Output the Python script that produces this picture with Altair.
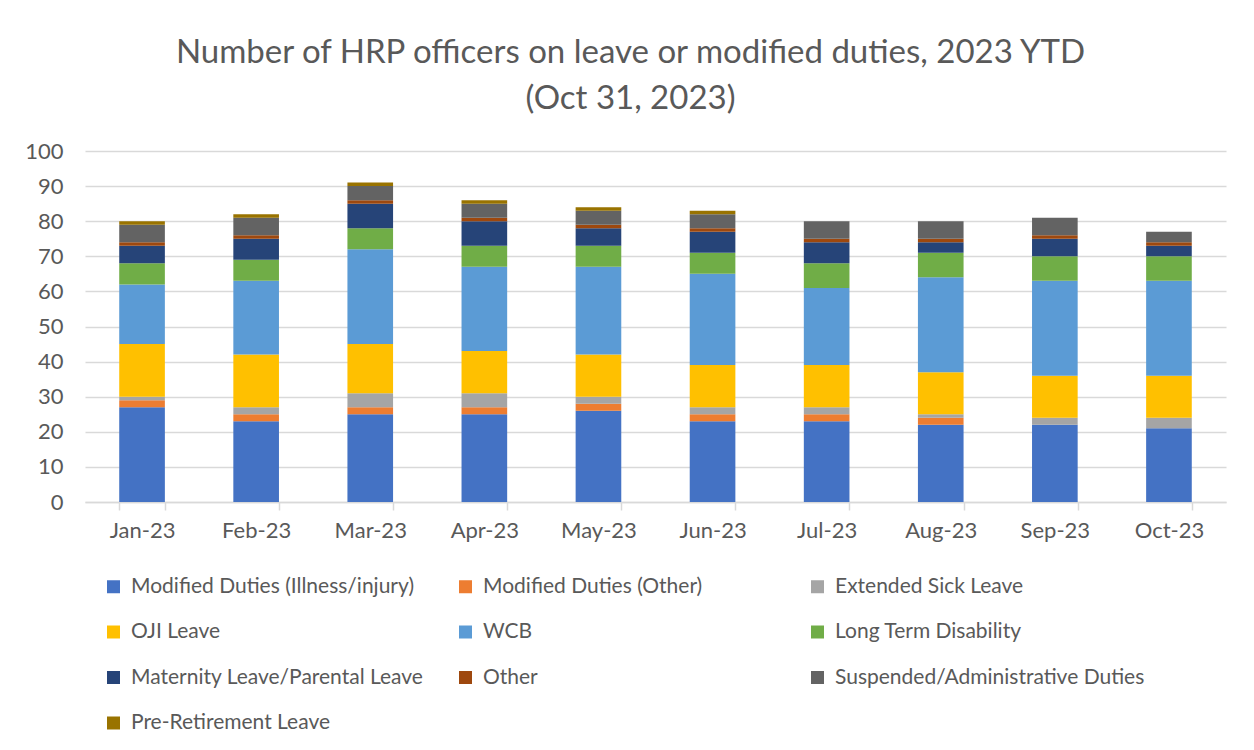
import altair as alt
import pandas as pd

months = ["Jan-23", "Feb-23", "Mar-23", "Apr-23", "May-23",
          "Jun-23", "Jul-23", "Aug-23", "Sep-23", "Oct-23"]

series = ["Modified Duties (Illness/injury)", "Modified Duties (Other)", "Extended Sick Leave",
          "OJI Leave", "WCB", "Long Term Disability",
          "Maternity Leave/Parental Leave", "Other", "Suspended/Administrative Duties",
          "Pre-Retirement Leave"]

colors = ["#4472C4", "#ED7D31", "#A5A5A5", "#FFC000", "#5B9BD5", "#70AD47",
          "#264478", "#9E480E", "#636363", "#997300"]

md_illness = [27, 23, 25, 25, 26, 23, 23, 22, 22, 21]
md_other = [2, 2, 2, 2, 2, 2, 2, 2, 0, 0]
ext_sick = [1, 2, 4, 4, 2, 2, 2, 1, 2, 3]
oji = [15, 15, 14, 12, 12, 12, 12, 12, 12, 12]
wcb = [17, 21, 27, 24, 25, 26, 22, 27, 27, 27]
ltd = [6, 6, 6, 6, 6, 6, 7, 7, 7, 7]
maternity = [5, 6, 7, 7, 5, 6, 6, 3, 5, 3]
other = [1, 1, 1, 1, 1, 1, 1, 1, 1, 1]
suspended = [5, 5, 4, 4, 4, 4, 5, 5, 5, 3]
pre_ret = [1, 1, 1, 1, 1, 1, 0, 0, 0, 0]

values = [md_illness, md_other, ext_sick, oji, wcb, ltd, maternity, other, suspended, pre_ret]

rows = []
for si, (name, vals) in enumerate(zip(series, values)):
    for m, v in zip(months, vals):
        rows.append({"month": m, "series": name, "value": v, "idx": si})
df = pd.DataFrame(rows)

FONT = "Lato"
GRAY = "#595959"

chart = alt.Chart(df).mark_bar().encode(
    x=alt.X("month:N", sort=months, title=None,
            scale=alt.Scale(paddingInner=0.6, paddingOuter=0.3),
            axis=alt.Axis(labelAngle=0, labelFontSize=22, labelColor=GRAY, labelFont=FONT,
                          labelPadding=10, domainColor="#d9d9d9", domainWidth=1.5,
                          tickColor="#d9d9d9", tickWidth=1.5, tickSize=8, tickBand="extent",
                          grid=False)),
    y=alt.Y("value:Q", stack="zero", title=None,
            scale=alt.Scale(domain=[0, 100]),
            axis=alt.Axis(values=list(range(0, 101, 10)), labelFontSize=22, labelColor=GRAY,
                          labelFont=FONT, labelPadding=22, domain=False, ticks=False,
                          gridColor="#d9d9d9", gridWidth=1.5)),
    color=alt.Color("series:N", scale=alt.Scale(domain=series, range=colors),
                    legend=alt.Legend(title=None, orient="none", legendX=18, legendY=425,
                                      columns=3, direction="horizontal", gridAlign="all",
                                      columnPadding=14, rowPadding=23.5,
                                      symbolType="square", symbolSize=169, symbolStrokeWidth=0,
                                      labelFontSize=21, labelFont=FONT, labelColor=GRAY,
                                      labelOffset=7, labelLimit=400)),
    order=alt.Order("idx:Q", sort="ascending"),
).properties(
    width=1141, height=351,
    title=alt.TitleParams(["Number of HRP officers on leave or modified duties, 2023 YTD",
                           "(Oct 31, 2023)"],
                          fontSize=33, font=FONT, color=GRAY, fontWeight="normal",
                          lineHeight=46, anchor="middle", offset=24, dx=-25),
    autosize=alt.AutoSizeParams(type="none"),
    padding={"left": 77, "top": 143, "right": 20, "bottom": 240},
).configure_view(stroke=None)

chart.save("out.html", embed_options={"renderer": "svg", "actions": False})
